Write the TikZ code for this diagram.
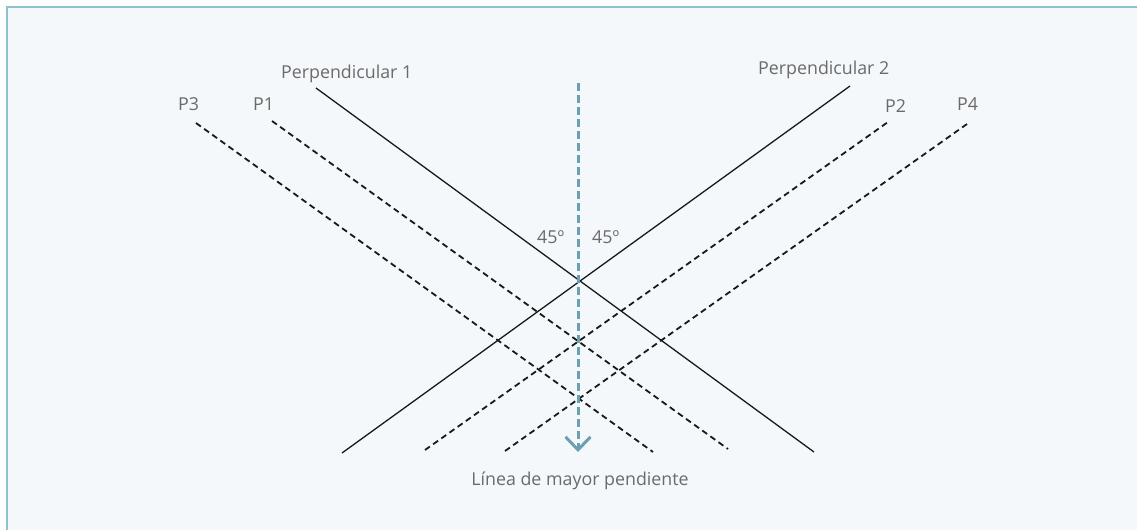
\documentclass[tikz,border=0pt]{standalone}
\usepackage{fontspec}
\setmainfont{Open Sans}
\usetikzlibrary{arrows.meta}

\definecolor{bgfill}{HTML}{F4F8FB}
\definecolor{framecol}{HTML}{8EC1CF}
\definecolor{slopecol}{HTML}{6C9FB0}
\definecolor{labelcol}{HTML}{6A6A6A}

\begin{document}
\begin{tikzpicture}[x=1pt, y=-1pt,
            % Styles
            perpline/.style={draw=black!90, line width=1.3pt},
            planeline/.style={draw=black!90, line width=1.8pt, dash pattern=on 6pt off 4pt},
            slopeline/.style={draw=slopecol, line width=3pt, dash pattern=on 8pt off 4pt, -{Straight Barb[length=13pt, width=25pt, line width=3pt]}},
            lbl/.style={text=labelcol, font=\fontsize{17.8}{20}\selectfont, inner sep=0pt}
        ]

        \useasboundingbox (0,0) rectangle (1137,530);

        % Background box
        \fill [bgfill] (7,7) rectangle (1137,530);
        \draw [framecol, line width=2pt] (7,530) -- (7,7) -- (1137,7);

        % End points
        \coordinate (perp1a) at (316,88);
        \coordinate (perp1b) at (814,452);
        \coordinate (perp2a) at (342,453);
        \coordinate (perp2b) at (850,86);
        \coordinate (p3a) at (196,123);
        \coordinate (p3b) at (653,452);
        \coordinate (p1a) at (272,121);
        \coordinate (p1b) at (728,449);
        \coordinate (p2a) at (425,450);
        \coordinate (p2b) at (888,122);
        \coordinate (p4a) at (505,451);
        \coordinate (p4b) at (967,124);
        \coordinate (slopetop) at (578,83);
        \coordinate (slopeend) at (578,452);

        % Labels
        \node [lbl, anchor=base west] (perp1) at (281,78) {Perpendicular 1};
        \node [lbl, anchor=base west] (perp2) at (758,74) {Perpendicular 2};
        \node [lbl, anchor=base west] (p3) at (178,110) {P3};
        \node [lbl, anchor=base west] (p1) at (253,110) {P1};
        \node [lbl, anchor=base west] (p2) at (885,112) {P2};
        \node [lbl, anchor=base west] (p4) at (957,110) {P4};
        \node [lbl, anchor=base west] (angleleft) at (537,243) {45º};
        \node [lbl, anchor=base west] (angleright) at (592,243) {45º};
        \node [lbl, anchor=base] (slope) at (580,485) {Línea de mayor pendiente};

        % Lines
        \path [planeline] (p3a) -- (p3b);
        \path [planeline] (p1a) -- (p1b);
        \path [planeline] (p2a) -- (p2b);
        \path [planeline] (p4a) -- (p4b);
        \path [perpline] (perp1a) -- (perp1b);
        \path [perpline] (perp2a) -- (perp2b);
        \path [slopeline] (slopetop) -- (slopeend);

    \end{tikzpicture}
\end{document}
